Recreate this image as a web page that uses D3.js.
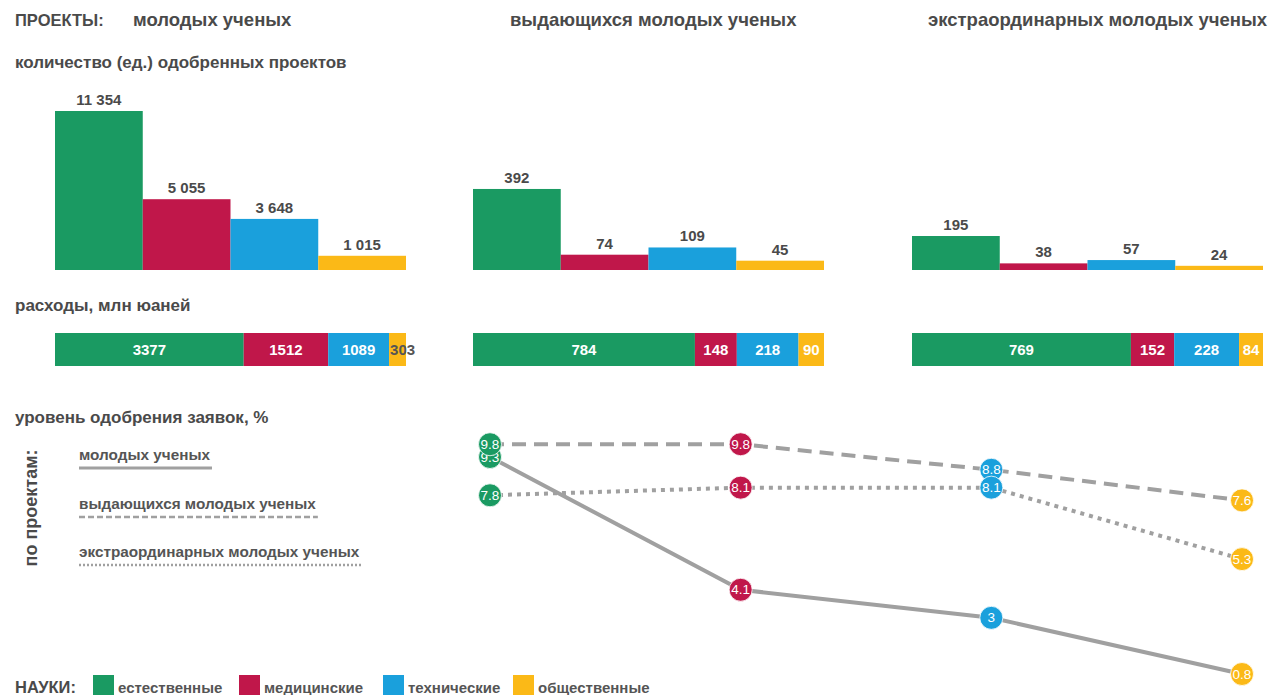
<!DOCTYPE html>
<html><head><meta charset="utf-8">
<script src="https://cdn.jsdelivr.net/npm/d3@7"></script>
<style>
html,body{margin:0;padding:0;background:#fff;}
svg{display:block;font-family:"Liberation Sans",Arial,sans-serif;}
</style></head>
<body>
<svg id="chart" width="1286" height="695"></svg>
<script>
// ---------- data ----------
const categories = ["естественные", "медицинские", "технические", "общественные"];
const categoryColors = ["#1a9a62", "#c0174a", "#1aa0dc", "#fbb917"];
const projects = ["молодых ученых", "выдающихся молодых ученых", "экстраординарных молодых ученых"];
const approvedCounts = [
  [11354, 5055, 3648, 1015],
  [392, 74, 109, 45],
  [195, 38, 57, 24]
];
const countLabels = [
  ["11 354", "5 055", "3 648", "1 015"],
  ["392", "74", "109", "45"],
  ["195", "38", "57", "24"]
];
const expenses = [
  [3377, 1512, 1089, 303],
  [784, 148, 218, 90],
  [769, 152, 228, 84]
];
const approvalRates = [
  [9.3, 4.1, 3, 0.8],
  [9.8, 9.8, 8.8, 7.6],
  [7.8, 8.1, 8.1, 5.3]
];
const rateLabels = [
  ["9.3", "4.1", "3", "0.8"],
  ["9.8", "9.8", "8.8", "7.6"],
  ["7.8", "8.1", "8.1", "5.3"]
];

// ---------- layout ----------
const svg = d3.select("#chart");
const textColor = "#4a4a4a";
const lineColor = "#a0a0a0";
const panelX = [55, 473, 912];
const panelW = 351;
const countBase = 270;
const countScaleMax = [11425, 774, 918];
const countH = 160;
const titleX = [133, 510, 928];
const dashes = [null, "14,8", "4,5"];
const legendDashes = [null, "6,3", "2,2"];

// titles
svg.append("text").attr("x", 15).attr("y", 26).attr("fill", textColor)
  .attr("font-size", 16.5).attr("font-weight", "bold").text("ПРОЕКТЫ:");
projects.forEach((p, i) => {
  svg.append("text").attr("x", titleX[i]).attr("y", 26).attr("fill", textColor)
    .attr("font-size", 18.5).attr("font-weight", "bold").text(p);
});
const sectionTitles = [
  ["количество (ед.) одобренных проектов", 68],
  ["расходы, млн юаней", 311],
  ["уровень одобрения заявок, %", 423]
];
sectionTitles.forEach(([t, y]) => {
  svg.append("text").attr("x", 15).attr("y", y).attr("fill", textColor)
    .attr("font-size", 17).attr("font-weight", "bold").text(t);
});

// count bars
projects.forEach((p, pi) => {
  const x = d3.scaleBand().domain(categories).range([panelX[pi], panelX[pi] + panelW]).padding(0);
  const y = d3.scaleLinear().domain([0, countScaleMax[pi]]).range([countBase, countBase - countH]);
  const g = svg.append("g");
  g.selectAll("rect").data(categories).join("rect")
    .attr("x", c => x(c)).attr("width", x.bandwidth())
    .attr("y", (c, i) => y(approvedCounts[pi][i]))
    .attr("height", (c, i) => countBase - y(approvedCounts[pi][i]))
    .attr("fill", (c, i) => categoryColors[i]);
  g.selectAll("text").data(categories).join("text")
    .attr("x", c => x(c) + x.bandwidth() / 2)
    .attr("y", (c, i) => y(approvedCounts[pi][i]) - 6)
    .attr("text-anchor", "middle").attr("fill", textColor)
    .attr("font-size", 15).attr("font-weight", "bold")
    .text((c, i) => countLabels[pi][i]);
});

// expense stacked bars
const expY = 333, expH = 33;
projects.forEach((p, pi) => {
  const vals = expenses[pi];
  const total = d3.sum(vals);
  const x = d3.scaleLinear().domain([0, total]).range([panelX[pi], panelX[pi] + panelW]);
  const cum = d3.cumsum(vals);
  const segs = vals.map((v, i) => ({ v, i, x0: cum[i] - v, x1: cum[i] }));
  const g = svg.append("g");
  g.selectAll("rect").data(segs).join("rect")
    .attr("x", d => x(d.x0)).attr("width", d => x(d.x1) - x(d.x0))
    .attr("y", expY).attr("height", expH)
    .attr("fill", d => categoryColors[d.i]);
  g.selectAll("text").data(segs).join("text")
    .attr("font-size", 15).attr("font-weight", "bold")
    .attr("y", expY + expH / 2 + 5.5)
    .text(d => d.v)
    .each(function (d) {
      const t = d3.select(this);
      const w = this.getComputedTextLength();
      const sw = x(d.x1) - x(d.x0);
      if (w > sw - 2) {
        t.attr("x", x(d.x0) + 1).attr("text-anchor", "start").attr("fill", "#555");
      } else {
        t.attr("x", (x(d.x0) + x(d.x1)) / 2).attr("text-anchor", "middle").attr("fill", "#fff");
      }
    });
});

// approval rate lines
const xr = d3.scalePoint().domain(categories).range([490, 1242]);
const yr = d3.scaleLinear().domain([0.8, 9.3]).range([674, 457]);
const line = d3.line().x((d, i) => xr(categories[i])).y(d => yr(d));
approvalRates.forEach((s, si) => {
  svg.append("path").attr("d", line(s)).attr("fill", "none")
    .attr("stroke", lineColor).attr("stroke-width", 4)
    .attr("stroke-dasharray", dashes[si]);
});
approvalRates.forEach((s, si) => {
  const g = svg.append("g");
  s.forEach((v, i) => {
    const cx = xr(categories[i]), cy = yr(v);
    g.append("circle").attr("cx", cx).attr("cy", cy).attr("r", 11.5)
      .attr("fill", categoryColors[i]).attr("stroke", "#fff").attr("stroke-width", 0.8);
    g.append("text").attr("x", cx).attr("y", cy + 4.5).attr("text-anchor", "middle")
      .attr("fill", "#fff").attr("font-size", 13.5).text(rateLabels[si][i]);
  });
});

// line legend
svg.append("text").attr("transform", "translate(37,508) rotate(-90)")
  .attr("text-anchor", "middle").attr("fill", textColor)
  .attr("font-size", 18).attr("font-weight", "bold").text("по проектам:");
const legY = [460, 509, 557];
projects.forEach((p, i) => {
  const t = svg.append("text").attr("x", 79).attr("y", legY[i]).attr("fill", "#555")
    .attr("font-size", 15.3).attr("font-weight", "bold").text(p);
  const w = t.node().getComputedTextLength();
  svg.append("line").attr("x1", 79).attr("x2", 79 + w + 2)
    .attr("y1", legY[i] + 8).attr("y2", legY[i] + 8)
    .attr("stroke", lineColor).attr("stroke-width", i === 0 ? 3 : 2.5)
    .attr("stroke-dasharray", legendDashes[i]);
});

// category legend
svg.append("text").attr("x", 15).attr("y", 693).attr("fill", textColor)
  .attr("font-size", 16.5).attr("font-weight", "bold").text("НАУКИ:");
const legX = [93, 239, 383, 513];
categories.forEach((c, i) => {
  svg.append("rect").attr("x", legX[i]).attr("y", 675).attr("width", 21).attr("height", 20)
    .attr("fill", categoryColors[i]);
  svg.append("text").attr("x", legX[i] + 25).attr("y", 693).attr("fill", "#555")
    .attr("font-size", 15).attr("font-weight", "bold").text(c);
});
</script>
</body></html>
